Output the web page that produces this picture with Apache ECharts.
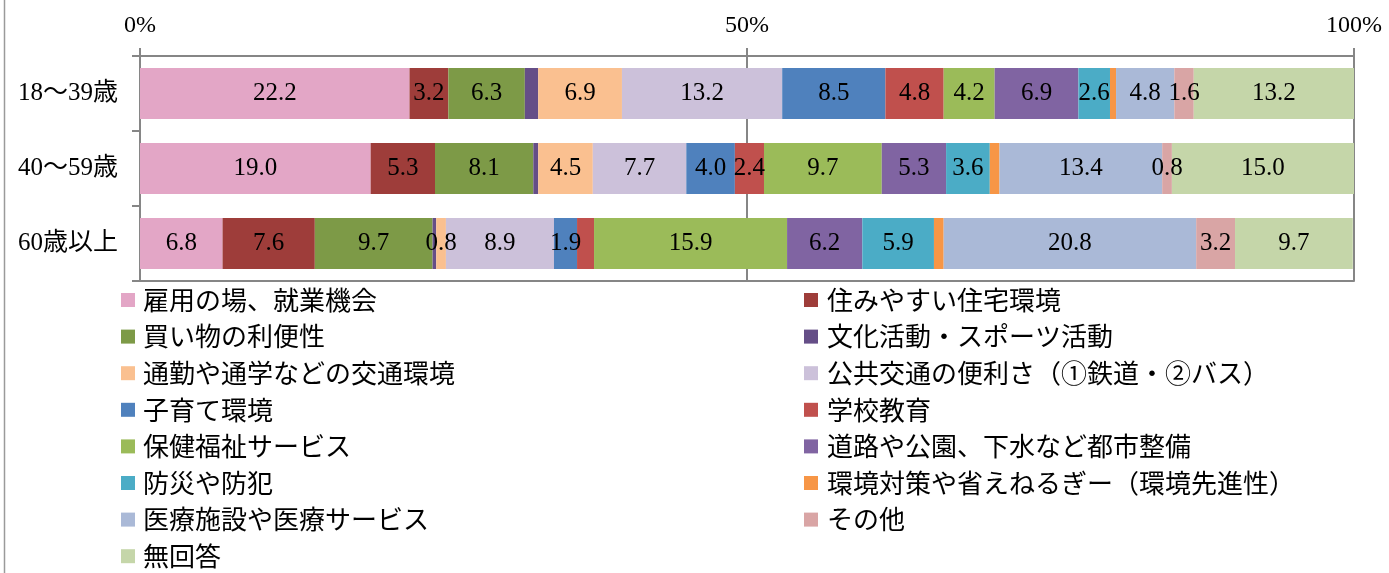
<!DOCTYPE html>
<html>
<head>
<meta charset="utf-8">
<script src="https://cdn.jsdelivr.net/npm/echarts@6/dist/echarts.min.js"></script>
<style>
html,body{margin:0;padding:0;background:#fff;}
#chart{width:1389px;height:573px;}
</style>
</head>
<body>
<div id="chart"></div>
<script>
const categories = ['18〜39歳', '40〜59歳', '60歳以上'];
const seriesNames = [
  '雇用の場、就業機会', '住みやすい住宅環境', '買い物の利便性', '文化活動・スポーツ活動',
  '通勤や通学などの交通環境', '公共交通の便利さ（①鉄道・②バス）', '子育て環境', '学校教育',
  '保健福祉サービス', '道路や公園、下水など都市整備', '防災や防犯', '環境対策や省えねるぎー（環境先進性）',
  '医療施設や医療サービス', 'その他', '無回答'
];
const row18to39 = [22.2, 3.2, 6.3, 1.1, 6.9, 13.2, 8.5, 4.8, 4.2, 6.9, 2.6, 0.5, 4.8, 1.6, 13.2];
const row40to59 = [19.0, 5.3, 8.1, 0.4, 4.5, 7.7, 4.0, 2.4, 9.7, 5.3, 3.6, 0.8, 13.4, 0.8, 15.0];
const row60plus = [6.8, 7.6, 9.7, 0.3, 0.8, 8.9, 1.9, 1.4, 15.9, 6.2, 5.9, 0.8, 20.8, 3.2, 9.7];
const xTicks = [0, 50, 100];
// [series index, category index] of segments without a value label
const hiddenLabels = [[3,0],[11,0],[3,1],[11,1],[3,2],[7,2],[11,2]];
const colors = ['#E3A6C6', '#9E3D3A', '#7D9A47', '#654E87', '#FAC090', '#CCC1DA', '#4F81BD', '#C0504D',
  '#9BBB59', '#8064A2', '#4BACC6', '#F79646', '#AAB9D7', '#D9A5A5', '#C5D6A9'];

const rows = [row18to39, row40to59, row60plus];
const isHidden = (s, c) => hiddenLabels.some(h => h[0] === s && h[1] === c);

const serifFont = "'Liberation Serif', 'Noto Sans CJK JP', serif";
const series = seriesNames.map((name, s) => ({
  name: name,
  type: 'bar',
  stack: 'total',
  barWidth: 51,
  itemStyle: { color: colors[s] },
  label: {
    show: true,
    position: 'inside',
    color: '#000',
    fontFamily: serifFont,
    fontSize: 25,
    formatter: p => isHidden(s, p.dataIndex) ? '' : Number(p.value).toFixed(1)
  },
  data: rows.map(r => r[s])
}));

const axisGray = '#868686';
const legendText = { color: '#000', fontFamily: "'Noto Sans CJK JP', sans-serif", fontSize: 26, lineHeight: 26, padding: [0, 0, 0, 3] };

const option = {
  animation: false,
  grid: { left: 140, right: 35, top: 56, height: 225, containLabel: false },
  xAxis: [{
    type: 'value', position: 'top', min: xTicks[0], max: xTicks[xTicks.length - 1], interval: xTicks[1] - xTicks[0],
    axisLine: { show: true, lineStyle: { color: axisGray, width: 2 } },
    axisTick: { show: true, length: 8, lineStyle: { color: axisGray, width: 2 } },
    axisLabel: { formatter: '{value}%', color: '#000', fontFamily: serifFont, fontSize: 24, margin: 18 },
    splitLine: { show: true, lineStyle: { color: axisGray, width: 2 } }
  }, {
    type: 'value', position: 'bottom', min: 0, max: 100,
    axisLine: { show: true, lineStyle: { color: axisGray, width: 2 } },
    axisTick: { show: false }, axisLabel: { show: false }, splitLine: { show: false }
  }],
  yAxis: {
    type: 'category', data: categories, inverse: true,
    axisLine: { show: true, lineStyle: { color: axisGray, width: 2 } },
    axisTick: { show: true, length: 8, lineStyle: { color: axisGray, width: 2 } },
    axisLabel: { color: '#000', fontFamily: serifFont, fontSize: 25, margin: 22 }
  },
  legend: [{
    orient: 'vertical', left: 121, top: 287, padding: 0, itemWidth: 14, itemHeight: 14, itemGap: 10.6,
    icon: 'rect', textStyle: legendText, selectedMode: false,
    data: seriesNames.filter((n, i) => i % 2 === 0)
  }, {
    orient: 'vertical', left: 804, top: 287, padding: 0, itemWidth: 14, itemHeight: 14, itemGap: 10.6,
    icon: 'rect', textStyle: Object.assign({}, legendText, { padding: [0, 0, 0, 4] }), selectedMode: false,
    data: seriesNames.filter((n, i) => i % 2 === 1)
  }],
  graphic: [{
    type: 'line', shape: { x1: 4.5, y1: 0, x2: 4.5, y2: 573 },
    style: { stroke: '#9a9a9a', lineWidth: 1.5 }
  }],
  series: series
};

const chart = echarts.init(document.getElementById('chart'), null, { renderer: 'canvas' });
chart.setOption(option);
</script>
</body>
</html>
